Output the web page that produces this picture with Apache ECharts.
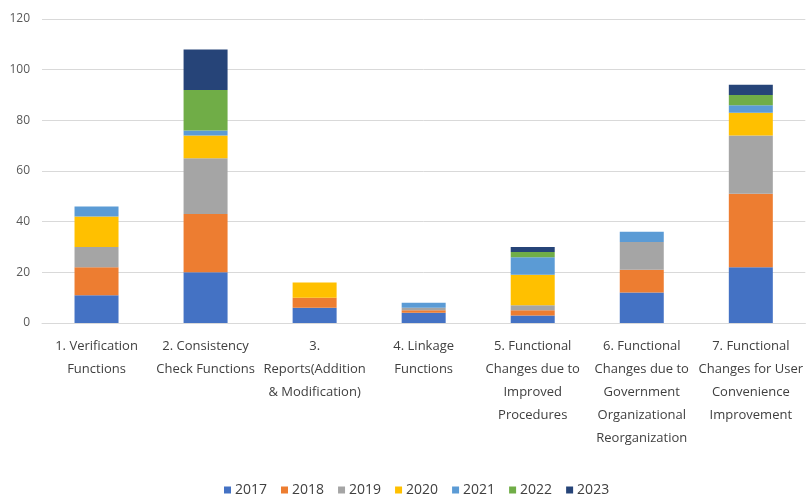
<!DOCTYPE html>
<html>
<head>
<meta charset="utf-8">
<script src="https://cdn.jsdelivr.net/npm/echarts@6/dist/echarts.min.js"></script>
<style>
  html, body { margin: 0; padding: 0; background: #fff; }
  #chart { width: 806px; height: 495px; }
</style>
</head>
<body>
<div id="chart"></div>
<script>
  // categories (line breaks as in the original)
  var categories = [
    '1. Verification\nFunctions',
    '2. Consistency\nCheck Functions',
    '3.\nReports(Addition\n& Modification)',
    '4. Linkage\nFunctions',
    '5. Functional\nChanges due to\nImproved\nProcedures',
    '6. Functional\nChanges due to\nGovernment\nOrganizational\nReorganization',
    '7. Functional\nChanges for User\nConvenience\nImprovement'
  ];
  var years = ['2017', '2018', '2019', '2020', '2021', '2022', '2023'];

  var y2017 = [11, 20, 6, 4, 3, 12, 22];
  var y2018 = [11, 23, 4, 1, 2, 9, 29];
  var y2019 = [8, 22, 0, 1, 2, 11, 23];
  var y2020 = [12, 9, 6, 0, 12, 0, 9];
  var y2021 = [4, 2, 0, 2, 7, 4, 3];
  var y2022 = [0, 16, 0, 0, 2, 0, 4];
  var y2023 = [0, 16, 0, 0, 2, 0, 4];

  var yTicks = [0, 20, 40, 60, 80, 100, 120];

  var colors = ['#4472C4', '#ED7D31', '#A5A5A5', '#FFC000', '#5B9BD5', '#70AD47', '#264478'];
  var values = [y2017, y2018, y2019, y2020, y2021, y2022, y2023];

  var chart = echarts.init(document.getElementById('chart'));

  chart.setOption({
    animation: false,
    color: colors,
    textStyle: { fontFamily: '"Open Sans", "Noto Sans", sans-serif' },
    grid: { left: 42, right: 0, top: 19, bottom: 172 },
    legend: {
      data: years,
      top: 478,
      left: 219,
      itemWidth: 7,
      itemHeight: 7,
      itemGap: 14,
      icon: 'rect',
      textStyle: { fontSize: 14, color: '#404040', padding: [0, 0, 0, -1] }
    },
    xAxis: {
      type: 'category',
      data: categories,
      axisTick: { show: false },
      axisLine: { lineStyle: { color: '#d9d9d9' } },
      axisLabel: {
        interval: 0,
        color: '#404040',
        fontSize: 13,
        lineHeight: 23,
        margin: 12
      }
    },
    yAxis: {
      type: 'value',
      min: yTicks[0],
      max: yTicks[yTicks.length - 1],
      interval: 20,
      axisLine: { show: false },
      axisTick: { show: false },
      axisLabel: { color: '#595959', fontSize: 12, margin: 12 },
      splitLine: { lineStyle: { color: '#d9d9d9' } }
    },
    series: years.map(function (y, i) {
      return {
        name: y,
        type: 'bar',
        stack: 'total',
        barWidth: 44,
        data: values[i]
      };
    })
  });
</script>
</body>
</html>
